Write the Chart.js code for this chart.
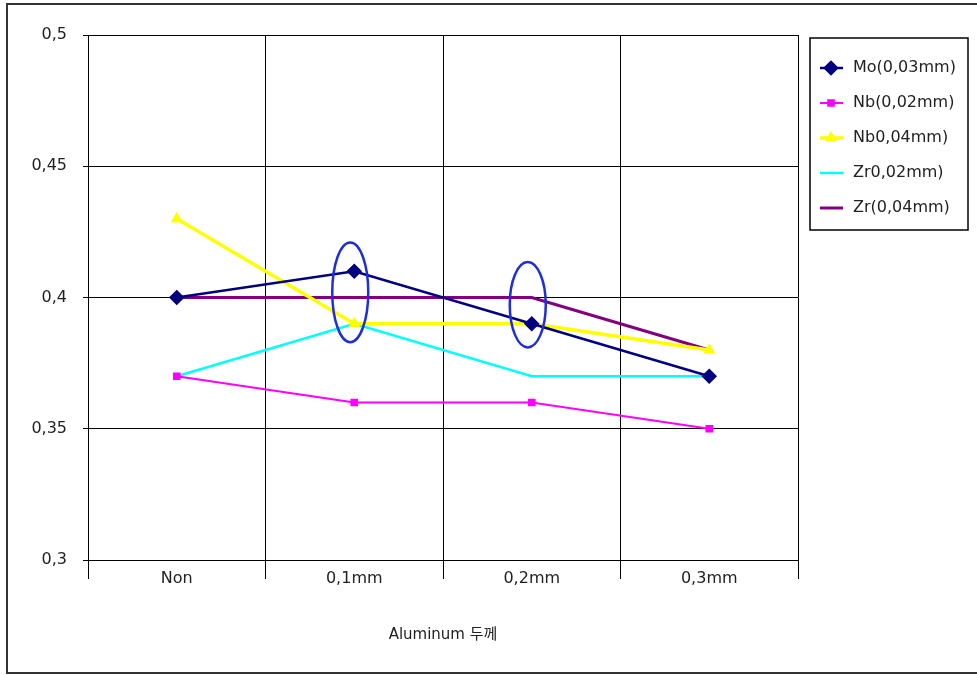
<!DOCTYPE html>
<html>
<head>
<meta charset="utf-8">
<script src="https://cdn.jsdelivr.net/npm/chart.js@4/dist/chart.umd.min.js"></script>
<style>
  html, body { margin: 0; padding: 0; background: #fff; }
  #wrap { width: 977px; height: 675px; }
</style>
</head>
<body>
<div id="wrap"><canvas id="grafico" width="977" height="675"></canvas></div>
<script>
// categorias del eje x
const categorias = ['Non', '0,1mm', '0,2mm', '0,3mm'];
const etiquetasY = ['0,3', '0,35', '0,4', '0,45', '0,5'];

// series
const mo003 = [0.40, 0.41, 0.39, 0.37];
const nb002 = [0.37, 0.36, 0.36, 0.35];
const nb004 = [0.43, 0.39, 0.39, 0.38];
const zr002 = [0.37, 0.39, 0.37, 0.37];
const zr004 = [0.40, 0.40, 0.40, 0.38];

// elipses marcadas (categoria, valor bajo, valor alto)
const marcadoEn = ['0,1mm', '0,2mm'];
const marcadoBajo = [0.383, 0.381];
const marcadoAlto = [0.421, 0.4135];

const fuente = "'DejaVu Sans', 'Noto Sans CJK KR', sans-serif";

const fondoYMarco = {
  id: 'fondoYMarco',
  beforeDraw(chart) {
    const ctx = chart.ctx;
    ctx.save();
    ctx.fillStyle = '#fff';
    ctx.fillRect(0, 0, chart.width, chart.height);
    ctx.strokeStyle = '#333';
    ctx.lineWidth = 2;
    ctx.beginPath();
    ctx.moveTo(chart.width, 4);
    ctx.lineTo(7, 4);
    ctx.lineTo(7, 673);
    ctx.lineTo(chart.width, 673);
    ctx.stroke();
    ctx.restore();
  }
};

const elipses = {
  id: 'elipses',
  afterDatasetsDraw(chart) {
    const ctx = chart.ctx;
    const x = chart.scales.x, y = chart.scales.y;
    ctx.save();
    ctx.strokeStyle = '#1f2fd6';
    ctx.lineWidth = 2.5;
    marcadoEn.forEach((cat, i) => {
      const cx = x.getPixelForValue(categorias.indexOf(cat));
      const yTop = y.getPixelForValue(marcadoAlto[i]);
      const yBot = y.getPixelForValue(marcadoBajo[i]);
      ctx.beginPath();
      ctx.ellipse(cx - 4, (yTop + yBot) / 2, 18, (yBot - yTop) / 2, 0, 0, Math.PI * 2);
      ctx.stroke();
    });
    ctx.restore();
  }
};

const leyenda = {
  id: 'leyenda',
  afterDraw(chart) {
    const ctx = chart.ctx;
    const area = chart.chartArea;
    const bx = area.right + 12, by = 38, bw = 158, bh = 192;
    ctx.save();
    ctx.strokeStyle = '#000';
    ctx.lineWidth = 1.5;
    ctx.strokeRect(bx, by, bw, bh);
    chart.data.datasets.forEach((ds, i) => {
      const yy = by + 30 + i * 35;
      ctx.strokeStyle = ds.borderColor;
      ctx.lineWidth = ds.borderWidth;
      ctx.beginPath();
      ctx.moveTo(bx + 10, yy);
      ctx.lineTo(bx + 33, yy);
      ctx.stroke();
      if (ds.pointRadius > 0) {
        ctx.fillStyle = ds.backgroundColor;
        ctx.strokeStyle = ds.borderColor;
        Chart.helpers.drawPoint(ctx, { pointStyle: ds.pointStyle, radius: ds.pointRadius, rotation: 0, borderWidth: 1 }, bx + 21, yy);
      }
      ctx.fillStyle = '#222';
      ctx.font = '16px ' + fuente;
      ctx.textBaseline = 'middle';
      ctx.fillText(ds.label, bx + 43, yy);
    });
    ctx.restore();
  }
};

const ctx = document.getElementById('grafico').getContext('2d');
new Chart(ctx, {
  type: 'line',
  data: {
    labels: categorias,
    datasets: [
      { label: 'Mo(0,03mm)', data: mo003, borderColor: '#000080', backgroundColor: '#000080', borderWidth: 2.5, pointStyle: 'rectRot', pointRadius: 6 },
      { label: 'Nb(0,02mm)', data: nb002, borderColor: '#ff00ff', backgroundColor: '#ff00ff', borderWidth: 2, pointStyle: 'rect', pointRadius: 4 },
      { label: 'Nb0,04mm)', data: nb004, borderColor: '#ffff00', backgroundColor: '#ffff00', borderWidth: 3.5, pointStyle: 'triangle', pointRadius: 3.5 },
      { label: 'Zr0,02mm)', data: zr002, borderColor: '#00ffff', backgroundColor: '#00ffff', borderWidth: 2.5, pointStyle: 'circle', pointRadius: 0 },
      { label: 'Zr(0,04mm)', data: zr004, borderColor: '#800080', backgroundColor: '#800080', borderWidth: 3, pointStyle: 'circle', pointRadius: 0 }
    ]
  },
  options: {
    responsive: false,
    animation: false,
    devicePixelRatio: 1,
    layout: { padding: { left: 0, top: 35, right: 179, bottom: 31 } },
    elements: { line: { tension: 0, fill: false } },
    plugins: {
      legend: { display: false },
      tooltip: { enabled: false }
    },
    scales: {
      x: {
        offset: true,
        grid: { offset: true, color: '#000', lineWidth: 1, tickLength: 19 },
        border: { color: '#000', width: 1 },
        ticks: { color: '#222', padding: -10, font: { family: fuente, size: 16 } },
        title: { display: true, text: 'Aluminum 두께', color: '#222', padding: 0, font: { family: fuente, size: 15 } },
        afterFit(scale) { scale.height = 84; }
      },
      y: {
        min: 0.3,
        max: 0.5,
        grid: { color: '#000', lineWidth: 1, tickLength: 5 },
        border: { color: '#000', width: 1 },
        ticks: {
          stepSize: 0.05,
          color: '#222',
          padding: 16,
          font: { family: fuente, size: 16 },
          callback: (v, i) => etiquetasY[i]
        },
        afterFit(scale) { scale.width = 88; }
      }
    }
  },
  plugins: [fondoYMarco, elipses, leyenda]
});
</script>
</body>
</html>
